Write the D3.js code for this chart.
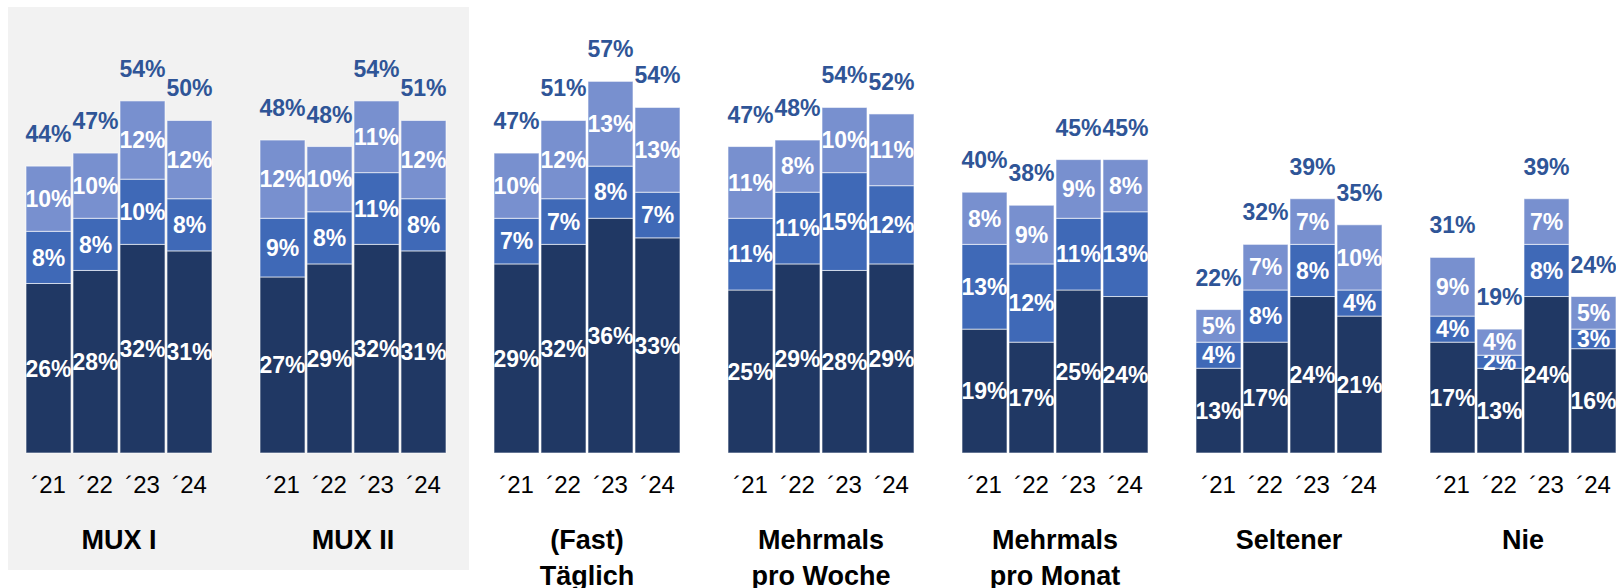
<!DOCTYPE html>
<html>
<head>
<meta charset="utf-8">
<script src="https://cdn.jsdelivr.net/npm/d3@7"></script>
<style>
  body { margin: 0; background: #fff; }
  text { font-family: "Liberation Sans", Arial, sans-serif; }
</style>
</head>
<body>
<div id="chart"></div>
<script>
// categories
var groups = ["MUX I", "MUX II", "(Fast)|Täglich", "Mehrmals|pro Woche", "Mehrmals|pro Monat", "Seltener", "Nie"];
var years = ["´21", "´22", "´23", "´24"];

// series values (%), one row per group, one value per year
var seriesDark = [
	[26, 28, 32, 31],
	[27, 29, 32, 31],
	[29, 32, 36, 33],
	[25, 29, 28, 29],
	[19, 17, 25, 24],
	[13, 17, 24, 21],
	[17, 13, 24, 16]
];
var seriesMid = [
	[8, 8, 10, 8],
	[9, 8, 11, 8],
	[7, 7, 8, 7],
	[11, 11, 15, 12],
	[13, 12, 11, 13],
	[4, 8, 8, 4],
	[4, 2, 8, 3]
];
var seriesLight = [
	[10, 10, 12, 12],
	[12, 10, 11, 12],
	[10, 12, 13, 13],
	[11, 8, 10, 11],
	[8, 9, 9, 8],
	[5, 7, 7, 10],
	[9, 4, 7, 5]
];
var totals = [
	[44, 47, 54, 50],
	[48, 48, 54, 51],
	[47, 51, 57, 54],
	[47, 48, 54, 52],
	[40, 38, 45, 45],
	[22, 32, 39, 35],
	[31, 19, 39, 24]
];

function barChart() {
	//size of area
	var width = 1616;
	var height = 588;
	var baseY = 453;

	var colors = {dark: "#203864", mid: "#3f69b7", light: "#7890cf"};
	var keys = ["dark", "mid", "light"];

	var x0 = d3.scaleBand()
		.domain(d3.range(groups.length))
		.range([25, 25 + groups.length * 234]);

	var x1 = d3.scaleBand()
		.domain(years)
		.range([0, 188])
		.paddingInner(2 / 47)
		.paddingOuter(1 / 47);

	var y = d3.scaleLinear()
		.domain([0, 60])
		.range([baseY, baseY - 60 * 6.52]);

	var stack = d3.stack().keys(keys);

	var svg = d3.select("#chart")
		.append("svg")
		.attr("width", width)
		.attr("height", height);

	// grey panel behind the first two groups
	svg.append("rect")
		.attr("x", 8)
		.attr("y", 7)
		.attr("width", 461)
		.attr("height", 563)
		.attr("fill", "#f2f2f2");

	groups.forEach(function(name, gi) {
		var rows = years.map(function(yr, i) {
			return {year: yr, dark: seriesDark[gi][i], mid: seriesMid[gi][i], light: seriesLight[gi][i], total: totals[gi][i]};
		});
		var layers = stack(rows);

		var g = svg.append("g")
			.attr("transform", "translate(" + x0(gi) + ",0)");

		layers.forEach(function(layer) {
			g.selectAll(null)
				.data(layer)
				.enter()
				.append("rect")
				.attr("x", function(d) { return x1(d.data.year); })
				.attr("y", function(d) { return y(d[1]); })
				.attr("width", x1.bandwidth())
				.attr("height", function(d) { return y(d[0]) - y(d[1]); })
				.attr("fill", colors[layer.key])
				.attr("stroke", "rgba(255,255,255,0.6)")
				.attr("stroke-width", 1);

			g.selectAll(null)
				.data(layer)
				.enter()
				.append("text")
				.attr("x", function(d) { return x1(d.data.year) + x1.bandwidth() / 2; })
				.attr("y", function(d) { return (y(d[0]) + y(d[1])) / 2; })
				.attr("dy", "0.36em")
				.attr("text-anchor", "middle")
				.attr("fill", "#fff")
				.attr("font-size", 23)
				.attr("font-weight", "bold")
				.text(function(d) { return d.data[layer.key] + "%"; });
		});

		// totals above the bars
		var top = layers[layers.length - 1];
		g.selectAll(null)
			.data(top)
			.enter()
			.append("text")
			.attr("x", function(d) { return x1(d.data.year) + x1.bandwidth() / 2; })
			.attr("y", function(d) { return y(d[1]) - 24; })
			.attr("text-anchor", "middle")
			.attr("fill", "#2f5597")
			.attr("font-size", 23)
			.attr("font-weight", "bold")
			.text(function(d) { return d.data.total + "%"; });

		// year labels
		g.selectAll(null)
			.data(years)
			.enter()
			.append("text")
			.attr("x", function(d) { return x1(d) + x1.bandwidth() / 2; })
			.attr("y", 493)
			.attr("text-anchor", "middle")
			.attr("fill", "#000")
			.attr("font-size", 24)
			.text(function(d) { return d; });

		// group label
		var lines = name.split("|");
		g.selectAll(null)
			.data(lines)
			.enter()
			.append("text")
			.attr("x", 94)
			.attr("y", function(d, i) { return 549 + i * 36; })
			.attr("text-anchor", "middle")
			.attr("fill", "#000")
			.attr("font-size", 27)
			.attr("font-weight", "bold")
			.text(function(d) { return d; });
	});
}

barChart();
</script>
</body>
</html>
